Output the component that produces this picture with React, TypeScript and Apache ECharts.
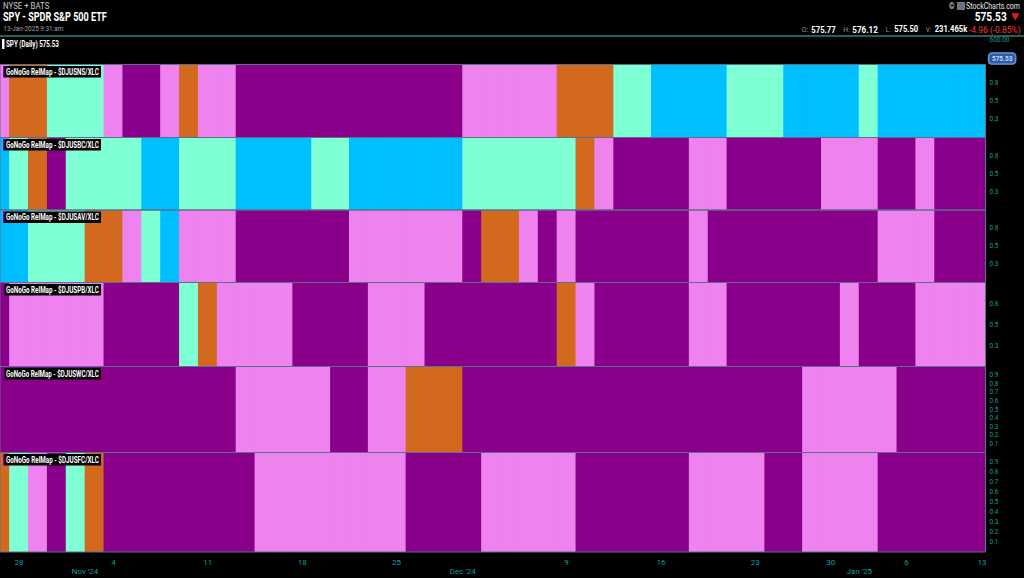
import React, { useEffect, useRef } from 'react';
import * as echarts from 'echarts';

// ---- Data ----
const dates = [
  '2024-10-25', '2024-10-28', '2024-10-29', '2024-10-30', '2024-10-31',
  '2024-11-01', '2024-11-04', '2024-11-05', '2024-11-06', '2024-11-07', '2024-11-08',
  '2024-11-11', '2024-11-12', '2024-11-13', '2024-11-14', '2024-11-15',
  '2024-11-18', '2024-11-19', '2024-11-20', '2024-11-21', '2024-11-22',
  '2024-11-25', '2024-11-26', '2024-11-27', '2024-11-29',
  '2024-12-02', '2024-12-03', '2024-12-04', '2024-12-05', '2024-12-06',
  '2024-12-09', '2024-12-10', '2024-12-11', '2024-12-12', '2024-12-13',
  '2024-12-16', '2024-12-17', '2024-12-18', '2024-12-19', '2024-12-20',
  '2024-12-23', '2024-12-24', '2024-12-26', '2024-12-27',
  '2024-12-30', '2024-12-31', '2025-01-02', '2025-01-03',
  '2025-01-06', '2025-01-07', '2025-01-08', '2025-01-10',
  '2025-01-13',
];

const dayTickDates = ['2024-10-28', '2024-11-04', '2024-11-11', '2024-11-18', '2024-11-25', '2024-12-09', '2024-12-16', '2024-12-23', '2024-12-30', '2025-01-06', '2025-01-13'];
const dayTickLabels = ['28', '4', '11', '18', '25', '9', '16', '23', '30', '6', '13'];
const monthTickDates = ['2024-11-01', '2024-12-02', '2025-01-02'];
const monthTickLabels = ["Nov '24", "Dec '24", "Jan '25"];

const yTicksCoarse = [0.25, 0.5, 0.75];
const yTicksFine = [0.1, 0.2, 0.3, 0.4, 0.5, 0.6, 0.7, 0.8, 0.9];
const spyTicks = [600];
const spyLast = 575.53;

const quoteLabels = ['O:', 'H:', 'L:', 'V:'];
const quoteValues = ['575.77', '576.12', '575.50', '231.465k'];
const quoteChange = '-4.96 (-0.85%)';

// P = strong NoGo (purple), V = NoGo (pink), O = amber, A = Go (aqua), B = strong Go (blue)
const djusns = ['V', 'O', 'O', 'A', 'A', 'A', 'V', 'P', 'P', 'V', 'O', 'V', 'V',
  'P', 'P', 'P', 'P', 'P', 'P', 'P', 'P', 'P', 'P', 'P', 'P',
  'V', 'V', 'V', 'V', 'V', 'O', 'O', 'O', 'A', 'A',
  'B', 'B', 'B', 'B', 'A', 'A', 'A', 'B', 'B', 'B', 'B', 'A',
  'B', 'B', 'B', 'B', 'B', 'B'];
const djusbc = ['B', 'A', 'O', 'P', 'A', 'A', 'A', 'A', 'B', 'B', 'A', 'A', 'A',
  'B', 'B', 'B', 'B', 'A', 'A', 'B', 'B', 'B', 'B', 'B', 'B',
  'A', 'A', 'A', 'A', 'A', 'A', 'O', 'V', 'P', 'P',
  'P', 'P', 'V', 'V', 'P', 'P', 'P', 'P', 'P', 'V',
  'V', 'V', 'P', 'P', 'V', 'P', 'P', 'P'];
const djusav = ['B', 'B', 'A', 'A', 'A', 'O', 'O', 'V', 'A', 'B', 'V', 'V', 'V',
  'P', 'P', 'P', 'P', 'P', 'P', 'V', 'V', 'V', 'V', 'V', 'V',
  'P', 'O', 'O', 'V', 'P', 'V', 'P', 'P', 'P', 'P',
  'P', 'P', 'V', 'P', 'P', 'P', 'P', 'P', 'P', 'P',
  'P', 'P', 'V', 'V', 'V', 'P', 'P', 'P'];
const djuspb = ['P', 'V', 'V', 'V', 'V', 'V', 'P', 'P', 'P', 'P', 'A', 'O', 'V',
  'V', 'V', 'V', 'P', 'P', 'P', 'P', 'V', 'V', 'V', 'P', 'P',
  'P', 'P', 'P', 'P', 'P', 'O', 'V', 'P', 'P', 'P',
  'P', 'P', 'V', 'V', 'P', 'P', 'P', 'P', 'P', 'P',
  'V', 'P', 'P', 'P', 'V', 'V', 'V', 'V'];
const djuswc = ['P', 'P', 'P', 'P', 'P', 'P', 'P', 'P', 'P', 'P', 'P', 'P', 'P',
  'V', 'V', 'V', 'V', 'V', 'P', 'P', 'V', 'V', 'O', 'O', 'O',
  'P', 'P', 'P', 'P', 'P', 'P', 'P', 'P', 'P', 'P',
  'P', 'P', 'P', 'P', 'P', 'P', 'P', 'P', 'V', 'V',
  'V', 'V', 'V', 'P', 'P', 'P', 'P', 'P'];
const djusfc = ['O', 'A', 'V', 'P', 'A', 'O', 'P', 'P', 'P', 'P', 'P', 'P', 'P',
  'P', 'V', 'V', 'V', 'V', 'V', 'V', 'V', 'V', 'P', 'P', 'P',
  'P', 'V', 'V', 'V', 'V', 'V', 'P', 'P', 'P', 'P',
  'P', 'P', 'V', 'V', 'V', 'V', 'P', 'P', 'V', 'V',
  'V', 'V', 'P', 'P', 'P', 'P', 'P', 'P'];

const panelNames = ['$DJUSNS/XLC', '$DJUSBC/XLC', '$DJUSAV/XLC', '$DJUSPB/XLC', '$DJUSWC/XLC', '$DJUSFC/XLC'];
const panelStates = [djusns, djusbc, djusav, djuspb, djuswc, djusfc];

// ---- Styling ----
const STATE_CODES = ['P', 'V', 'O', 'A', 'B'];
const STATE_COLORS = ['#8B008B', '#EE82EE', '#D2691E', '#7FFFD4', '#00BFFF'];
const FONT = 'Roboto, "Noto Sans", sans-serif';
const TEAL = '#0f9e9e';
const PANEL_LAYOUT = [
  { top: 64.5, height: 73, ticks: yTicksCoarse },
  { top: 137.5, height: 72.5, ticks: yTicksCoarse },
  { top: 210, height: 72.5, ticks: yTicksCoarse },
  { top: 282.5, height: 84, ticks: yTicksCoarse },
  { top: 366.5, height: 86, ticks: yTicksFine },
  { top: 452.5, height: 99.5, ticks: yTicksFine },
];
const SPY_GRID = { top: 36.5, height: 28 };
const GRID_LEFT = -1;
const GRID_RIGHT = 38.5;
const X_MIN = (GRID_LEFT + 0.9) / 18.9;
const X_MAX = 986.4 / 18.9;

let measureCtx: CanvasRenderingContext2D | null = null;
function fitScale(text: string, size: number, weight: string, target: number) {
  if (!measureCtx) measureCtx = document.createElement('canvas').getContext('2d');
  if (!measureCtx) return 1;
  measureCtx.font = `${weight} ${size}px Roboto`;
  const w = measureCtx.measureText(text).width;
  return w > 0 ? target / w : 1;
}

function fitText(text: string, x: number, y: number, size: number, weight: string, target: number, fill: string, align = 'left', extra: any = {}) {
  return {
    type: 'text', z: 100, x, y, scaleX: fitScale(text, size, weight, target),
    style: {
      text, fill, fontSize: size, fontWeight: weight, fontFamily: FONT,
      textAlign: align, textVerticalAlign: 'middle', ...extra,
    },
  };
}

function buildOption() {
  const dayIdx = dayTickDates.map((d) => dates.indexOf(d));
  const monthIdx = monthTickDates.map((d) => dates.indexOf(d) - 0.5);

  const grids: any[] = [
    { left: GRID_LEFT, right: GRID_RIGHT, top: SPY_GRID.top, height: SPY_GRID.height, show: false },
  ];
  const xAxes: any[] = [
    { type: 'value', gridIndex: 0, min: X_MIN, max: X_MAX, show: false },
  ];
  const yAxes: any[] = [
    {
      type: 'value', gridIndex: 0, position: 'right', min: 567.4, max: 605.4,
      axisLine: { show: false }, axisTick: { show: false }, splitLine: { show: false },
      axisLabel: {
        customValues: spyTicks, formatter: (v: number) => v.toFixed(2),
        color: TEAL, fontSize: 6.5, fontFamily: FONT, margin: 4,
      },
    },
  ];
  const series: any[] = [
    {
      type: 'scatter', xAxisIndex: 0, yAxisIndex: 0, data: [[dates.length - 1, spyLast]],
      symbolSize: 1, itemStyle: { color: 'rgba(0,0,0,0)' }, clip: false, silent: true,
      label: {
        show: true, position: 'right', distance: 6.5, formatter: spyLast.toFixed(2),
        color: '#fff', fontSize: 6.5, fontWeight: 'bold', fontFamily: FONT,
        backgroundColor: '#2f6fd3', borderColor: '#9cc2ff', borderWidth: 1, borderRadius: 3,
        padding: [2, 3, 1.5, 3],
      },
    },
  ];

  PANEL_LAYOUT.forEach((p, k) => {
    const gi = k + 1;
    const last = k === PANEL_LAYOUT.length - 1;
    grids.push({
      left: GRID_LEFT, right: GRID_RIGHT, top: p.top, height: p.height, z: 3,
      show: true, borderColor: '#58708c', borderWidth: 1, backgroundColor: 'transparent',
    });
    xAxes.push({
      type: 'value', gridIndex: gi, min: X_MIN, max: X_MAX, show: last, position: 'bottom',
      axisLine: { show: false }, axisTick: { show: false }, splitLine: { show: false },
      axisLabel: {
        customValues: dayIdx,
        formatter: (v: number) => {
          const j = dayIdx.findIndex((d) => Math.abs(d - v) < 0.01);
          return j >= 0 ? dayTickLabels[j] : '';
        },
        color: TEAL, fontSize: 8, fontFamily: FONT, margin: 6,
      },
    });
    yAxes.push({
      type: 'value', gridIndex: gi, position: 'right', min: 0, max: 1,
      axisLine: { show: false }, axisTick: { show: false }, splitLine: { show: false },
      axisLabel: {
        customValues: p.ticks, formatter: (v: number) => v.toFixed(1),
        color: TEAL, fontSize: 6.5, fontFamily: FONT, margin: 4,
      },
    });
    series.push({
      type: 'custom', name: panelNames[k], xAxisIndex: gi, yAxisIndex: gi, silent: true, z: 1,
      data: panelStates[k].map((s, i) => [i, STATE_CODES.indexOf(s)]),
      encode: { x: 0, y: 1 },
      renderItem: (params: any, api: any) => {
        const i = api.value(0);
        const code = api.value(1);
        const a = api.coord([i - 0.5, 1]);
        const b = api.coord([i + 0.5, 0]);
        const cs = params.coordSys;
        const shape = echarts.graphic.clipRectByRect(
          { x: a[0] - 0.4, y: a[1], width: b[0] - a[0] + 0.8, height: b[1] - a[1] },
          { x: cs.x, y: cs.y, width: cs.width, height: cs.height },
        );
        if (!shape) return null;
        return { type: 'rect', shape, style: { fill: STATE_COLORS[code] } };
      },
    });
  });

  // month labels axis on last grid
  xAxes.push({
    type: 'value', gridIndex: PANEL_LAYOUT.length, min: X_MIN, max: X_MAX, position: 'bottom',
    axisLine: { show: false }, axisTick: { show: false }, splitLine: { show: false },
    axisLabel: {
      customValues: monthIdx,
      formatter: (v: number) => {
        const j = monthIdx.findIndex((d) => Math.abs(d - v) < 0.01);
        return j >= 0 ? monthTickLabels[j] : '';
      },
      color: TEAL, fontSize: 8, fontFamily: FONT, margin: 15,
    },
  });

  const graphic: any[] = [
    { type: 'line', z: 100, shape: { x1: 0, y1: 36, x2: 1024, y2: 36 }, style: { stroke: '#2b8080', lineWidth: 1.5 } },
    fitText('NYSE + BATS', 3, 6, 8.5, 'normal', 46.5, '#c8c8c8'),
    fitText('SPY - SPDR S&P 500 ETF', 3, 17.5, 12, 'bold', 104, '#fff'),
    fitText('13-Jan-2025 9:31:am', 3.3, 29, 7.5, 'normal', 60, '#a0a0a0'),
    { type: 'rect', z: 100, shape: { x: 2, y: 39, width: 2.5, height: 10 }, style: { fill: '#fff' } },
    fitText('SPY (Daily) ' + spyLast.toFixed(2), 6, 44, 8.5, 'bold', 53, '#fff'),
    fitText('©', 949, 6, 8.5, 'normal', 5.5, '#e8e8e8'),
    { type: 'rect', z: 100, shape: { x: 957.5, y: 2.5, width: 7, height: 7 }, style: { fill: '#6e7080', stroke: '#bfc3d0', lineWidth: 0.5 } },
    fitText('StockCharts.com', 1020, 6, 8.5, 'normal', 54, '#e8e8e8', 'right'),
    fitText(spyLast.toFixed(2), 1006.7, 17.5, 12, 'bold', 32, '#fff', 'right'),
    { type: 'polygon', z: 100, shape: { points: [[1011.3, 13.3], [1019.3, 13.3], [1015.3, 20.8]] }, style: { fill: '#e41b1b' } },
  ];
  const qLabelX = [801.7, 843.3, 885.7, 925.7];
  const qLabelW = [6.5, 6.5, 5, 5.5];
  const qValueX = [811.3, 852.3, 894.2, 934.7];
  const qValueW = [24.4, 25.7, 24, 32.6];
  quoteLabels.forEach((l, j) => {
    graphic.push(fitText(l, qLabelX[j], 29.5, 8, 'normal', qLabelW[j], '#9a9a9a'));
    graphic.push(fitText(quoteValues[j], qValueX[j], 29.5, 8.5, 'bold', qValueW[j], '#fff'));
  });
  graphic.push(fitText(quoteChange, 1020.7, 29.5, 8.5, 'normal', 51.7, '#ff3030', 'right'));

  PANEL_LAYOUT.forEach((p, k) => {
    graphic.push({ type: 'rect', z: 100, shape: { x: 3, y: p.top + 1.5, width: 2, height: 11.5 }, style: { fill: '#8B008B' } });
    const text = 'GoNoGo RelMap - ' + panelNames[k];
    const s = fitScale(text, 8.5, 'bold', 93);
    graphic.push({
      type: 'text', z: 100, x: 4.5, y: p.top + 1.5, scaleX: s,
      style: {
        text, fill: '#fff', fontSize: 8.5, fontWeight: 'bold', fontFamily: FONT,
        textAlign: 'left', textVerticalAlign: 'top',
        backgroundColor: '#000', padding: [1.5, 2 / s, 1, 1.5 / s], lineHeight: 9,
      },
    });
  });

  return {
    animation: false,
    backgroundColor: '#000',
    grid: grids,
    xAxis: xAxes,
    yAxis: yAxes,
    series,
    graphic,
  };
}

export default function App() {
  const ref = useRef<HTMLDivElement>(null);
  useEffect(() => {
    document.body.style.margin = '0';
    document.body.style.background = '#000';
    const chart = echarts.init(ref.current!, undefined, { renderer: 'svg' });
    chart.setOption(buildOption());
    return () => chart.dispose();
  }, []);
  return <div ref={ref} style={{ position: 'fixed', left: 0, top: 0, width: 1024, height: 578, background: '#000' }} />;
}
